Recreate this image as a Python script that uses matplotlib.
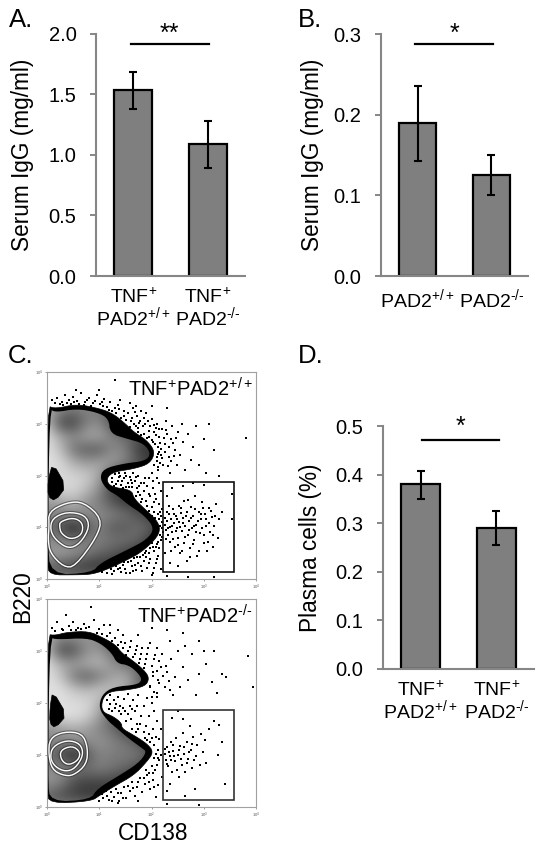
import numpy as np
import matplotlib
matplotlib.use("Agg")
import matplotlib.pyplot as plt
from matplotlib.patches import Polygon, Rectangle

plt.rcParams['font.family'] = ['Liberation Sans', 'DejaVu Sans']
plt.rcParams['mathtext.fontset'] = 'custom'
plt.rcParams['mathtext.rm'] = 'Liberation Sans'
plt.rcParams['mathtext.default'] = 'regular'

W, H = 543, 851

# bar panels
labels_tnf = ["TNF$^{+}$\nPAD2$^{+/+}$", "TNF$^{+}$\nPAD2$^{\\text{-/-}}$"]
labels_pad = ["PAD2$^{+/+}$", "PAD2$^{\\text{-/-}}$"]

igg_a = [1.53, 1.09]
igg_a_low = [1.38, 0.89]
igg_a_high = [1.68, 1.28]
ticks_a = [0.0, 0.5, 1.0, 1.5, 2.0]

igg_b = [0.19, 0.125]
igg_b_low = [0.142, 0.101]
igg_b_high = [0.235, 0.150]
ticks_b = [0.0, 0.1, 0.2, 0.3]

plasma = [0.38, 0.29]
plasma_low = [0.35, 0.255]
plasma_high = [0.408, 0.325]
ticks_d = [0.0, 0.1, 0.2, 0.3, 0.4, 0.5]

# flow plots: everything in log10 decades
decade_labels = ["$10^{0}$", "$10^{1}$", "$10^{2}$", "$10^{3}$", "$10^{4}$"]
gate = (2.22, 0.13, 3.57, 1.87)

outer_top = [(0, 3.35), (0.16, 3.29), (0.57, 3.38), (1.02, 3.29), (1.27, 3.19), (1.50, 3.0), (1.66, 2.84),
             (1.91, 2.68), (2.07, 2.46), (1.97, 2.23), (1.66, 2.13), (1.27, 2.07), (1.13, 1.94), (1.21, 1.78),
             (1.62, 1.72), (1.66, 1.56), (1.85, 1.37), (2.10, 1.14), (2.17, 0.95), (2.07, 0.76), (1.78, 0.50),
             (1.53, 0.37), (1.21, 0.21), (0.87, 0.09), (0.55, 0.08), (0.05, 0.08), (0, 0.3)]
inner_top = [(0.05, 3.29), (0.16, 3.22), (0.57, 3.29), (0.96, 3.22), (1.18, 3.10), (1.21, 2.81), (1.53, 2.71),
             (1.85, 2.62), (1.99, 2.42), (1.88, 2.28), (1.46, 2.23), (1.08, 2.13), (1.01, 1.94), (1.15, 1.72),
             (1.34, 1.62), (1.56, 1.43), (1.85, 1.24), (2.06, 0.98), (1.91, 0.76), (1.53, 0.56), (1.02, 0.31),
             (0.86, 0.12), (0.06, 0.08), (0.02, 0.76)]
hole_top = [(0.11, 2.24), (0.37, 1.79), (0.16, 1.51), (0.02, 1.59), (0.02, 1.91)]
rings_top = [[(0.03, 1.30), (0.38, 1.48), (0.70, 1.49), (1.05, 1.17), (0.96, 0.82), (0.54, 0.24), (0.32, 0.23),
              (0.06, 0.5), (0.02, 0.76), (0.04, 1.01)],
             [(0.10, 1.17), (0.38, 1.30), (0.73, 1.24), (0.82, 1.01), (0.64, 0.69), (0.41, 0.58), (0.16, 0.76),
              (0.06, 0.95)],
             [(0.25, 1.11), (0.51, 1.19), (0.69, 1.08), (0.67, 0.85), (0.45, 0.76), (0.27, 0.88), (0.24, 1.01)]]
# grey level read every 0.25 decade, rows from y=3.5 down to y=0, columns from x=0 to x=2.25
grey_top = [[.60, .60, .60, .60, .60, .60, .60, .60, .60, .60],
            [.70, .50, .45, .50, .45, .35, .20, .20, .20, .20],
            [.75, .30, .25, .50, .55, .30, .20, .20, .20, .20],
            [.88, .65, .55, .65, .65, .50, .40, .35, .25, .20],
            [.88, .75, .45, .35, .35, .55, .50, .22, .20, .20],
            [.88, .85, .68, .60, .65, .62, .50, .35, .20, .20],
            [.85, .85, .82, .80, .65, .30, .20, .20, .20, .20],
            [.85, .85, .85, .75, .55, .25, .20, .20, .20, .20],
            [.60, .65, .72, .58, .48, .32, .20, .20, .20, .20],
            [.55, .50, .55, .55, .55, .50, .45, .30, .20, .20],
            [.45, .30, .12, .30, .50, .35, .35, .45, .35, .20],
            [.55, .50, .45, .50, .50, .45, .45, .38, .20, .20],
            [.60, .65, .60, .50, .40, .35, .25, .20, .20, .20],
            [.40, .30, .25, .20, .20, .20, .20, .20, .20, .20],
            [.50, .50, .50, .50, .50, .50, .50, .50, .50, .50]]

outer_bot = [(0, 3.32), (0.16, 3.30), (0.38, 3.36), (0.80, 3.38), (1.08, 3.25), (1.31, 3.12), (1.43, 2.96),
             (1.62, 2.83), (1.85, 2.64), (1.96, 2.48), (1.88, 2.32), (1.53, 2.25), (1.18, 2.22), (1.05, 2.06),
             (1.05, 1.83), (1.27, 1.74), (1.43, 1.61), (1.43, 1.51), (1.66, 1.38), (1.91, 1.22), (2.04, 1.06),
             (1.91, 0.87), (1.66, 0.61), (1.27, 0.39), (1.02, 0.23), (0.84, 0.11), (0.05, 0.07), (0, 0.3)]
inner_bot = [(0.05, 3.26), (0.19, 3.22), (0.76, 3.25), (1.02, 3.15), (1.24, 2.96), (1.34, 2.76), (1.56, 2.73),
             (1.75, 2.57), (1.82, 2.44), (1.72, 2.35), (1.27, 2.31), (1.05, 2.16), (0.99, 1.90), (1.15, 1.67),
             (1.34, 1.51), (1.56, 1.32), (1.82, 1.13), (1.91, 1.06), (1.75, 0.84), (1.34, 0.58), (0.96, 0.35),
             (0.83, 0.14), (0.06, 0.1), (0.02, 0.5)]
hole_bot = [(0.11, 2.23), (0.38, 1.77), (0.16, 1.52), (0.05, 1.61), (0.06, 1.93)]
rings_bot = [[(0.05, 1.32), (0.32, 1.45), (0.67, 1.42), (0.78, 1.15), (0.76, 0.82), (0.5, 0.6), (0.3, 0.61),
              (0.1, 0.72), (0.03, 1.0)],
             [(0.10, 1.16), (0.38, 1.29), (0.64, 1.22), (0.70, 1.0), (0.54, 0.74), (0.35, 0.68), (0.16, 0.77),
              (0.06, 0.93)],
             [(0.25, 1.09), (0.48, 1.18), (0.64, 1.06), (0.60, 0.9), (0.41, 0.8), (0.27, 0.9)]]
grey_bot = [[.60, .60, .60, .60, .60, .60, .60, .60, .60, .60],
            [.70, .55, .55, .60, .50, .30, .20, .20, .20, .20],
            [.75, .28, .30, .55, .60, .40, .25, .20, .20, .20],
            [.88, .68, .62, .68, .72, .58, .45, .42, .25, .20],
            [.88, .78, .48, .35, .48, .62, .68, .40, .25, .20],
            [.88, .88, .78, .72, .78, .78, .68, .45, .20, .20],
            [.85, .88, .85, .85, .72, .40, .20, .20, .20, .20],
            [.85, .88, .88, .82, .62, .35, .20, .20, .20, .20],
            [.55, .60, .68, .62, .52, .42, .25, .20, .20, .20],
            [.55, .50, .52, .55, .58, .52, .45, .32, .20, .20],
            [.45, .30, .12, .32, .52, .48, .48, .48, .28, .20],
            [.55, .50, .48, .45, .50, .45, .40, .28, .20, .20],
            [.60, .55, .32, .28, .28, .28, .20, .20, .20, .20],
            [.40, .30, .25, .20, .20, .20, .20, .20, .20, .20],
            [.50, .50, .50, .50, .50, .50, .50, .50, .50, .50]]

dots_top = [
    # in the gate
    (2.25, 1.05), (2.28, 0.95), (2.3, 1.12), (2.31, 0.85), (2.33, 1.25), (2.35, 1.0), (2.36, 0.72), (2.38, 1.15),
    (2.4, 0.9), (2.42, 1.35), (2.44, 1.08), (2.45, 0.62), (2.47, 1.22), (2.48, 0.98), (2.5, 0.8), (2.52, 1.42),
    (2.53, 1.1), (2.55, 0.5), (2.56, 1.28), (2.58, 0.92), (2.6, 1.18), (2.62, 0.7), (2.63, 1.5), (2.65, 1.02),
    (2.67, 0.35), (2.68, 1.3), (2.7, 0.85), (2.72, 1.12), (2.74, 0.6), (2.75, 1.4), (2.77, 0.98), (2.8, 1.22),
    (2.82, 0.75), (2.84, 1.6), (2.85, 1.05), (2.88, 0.45), (2.9, 1.3), (2.92, 0.88), (2.95, 1.15), (2.97, 1.48),
    (3.0, 0.7), (3.02, 1.25), (3.05, 1.02), (3.07, 0.55), (3.1, 1.38), (3.12, 0.9), (3.15, 1.2), (3.18, 0.62),
    (3.2, 1.02), (3.24, 1.45), (3.28, 0.8), (3.3, 1.15), (3.35, 1.3), (2.3, 1.6), (2.4, 1.75), (2.6, 1.8),
    (2.8, 1.85), (2.25, 0.5), (2.35, 0.3), (2.5, 0.25), (3.0, 1.82), (3.55, 1.65), (3.55, 1.16),
    (2.26, 1.18), (2.27, 0.78), (2.29, 1.3), (2.32, 0.98), (2.34, 1.42), (2.37, 0.55), (2.39, 1.02), (2.41, 0.78),
    (2.43, 1.25), (2.46, 0.92), (2.49, 1.15), (2.51, 0.65), (2.54, 1.0), (2.57, 1.38), (2.59, 0.55), (2.61, 1.08),
    (2.64, 0.82), (2.66, 1.22), (2.69, 1.52), (2.71, 0.95), (2.73, 0.42), (2.76, 1.18), (2.79, 0.68), (2.81, 1.02),
    (2.83, 1.35), (2.86, 0.9), (2.89, 1.12), (2.91, 0.55), (2.94, 1.25), (2.96, 0.98), (2.99, 1.38), (3.01, 0.85),
    (3.04, 1.15), (3.08, 0.72), (3.11, 1.08), (3.14, 1.32), (3.17, 0.85), (3.22, 1.22),
    # right of the contour, upper cloud
    (1.55, 3.2), (1.6, 3.05), (1.65, 3.3), (1.7, 2.95), (1.72, 3.15), (1.75, 2.85), (1.78, 3.05), (1.8, 3.25),
    (1.85, 2.8), (1.88, 3.0), (1.9, 3.2), (1.95, 2.75), (1.97, 2.95), (2.0, 3.1), (2.02, 2.65), (2.05, 2.85),
    (2.1, 3.0), (2.12, 2.55), (2.15, 2.75), (2.18, 2.4), (2.2, 2.9), (2.22, 2.2), (2.25, 2.6), (2.28, 3.05),
    (2.3, 2.8), (2.33, 2.35), (2.35, 2.05), (2.38, 2.7), (2.4, 2.95), (2.45, 2.5), (2.48, 2.2), (2.5, 2.85),
    (2.55, 2.4), (2.58, 3.0), (2.6, 2.65), (2.65, 2.1), (2.7, 2.8), (2.75, 2.3), (2.8, 2.55), (2.85, 2.95),
    (2.9, 2.2), (3.0, 2.7), (3.05, 2.05), (3.1, 3.0), (3.2, 2.5), (3.3, 2.0), (3.8, 2.72), (1.3, 3.3), (1.4, 3.45),
    (1.2, 3.42), (1.48, 3.25), (1.38, 3.28), (1.58, 3.4), (1.7, 3.35), (2.3, 3.3), (2.0, 3.35),
    (1.52, 3.08), (1.58, 2.94), (1.62, 3.12), (1.66, 3.0), (1.74, 2.92), (1.8, 2.78), (1.83, 2.95), (1.86, 3.12),
    (1.92, 2.72), (1.96, 2.86), (2.0, 2.68), (2.04, 2.98), (2.07, 2.6), (2.09, 2.78), (2.12, 2.42), (2.14, 2.9),
    (2.16, 2.62), (2.19, 2.52), (2.21, 2.34), (2.23, 2.72), (2.26, 2.45), (2.27, 2.88), (2.31, 2.18), (2.34, 2.55),
    (2.37, 2.28), (2.41, 2.62), (2.44, 2.38), (2.47, 2.72), (1.68, 3.22), (1.76, 3.02), (1.93, 3.05), (2.08, 2.92),
    (2.17, 2.24), (2.15, 2.46), (2.1, 2.28), (2.13, 2.16),
    # along the top of the contour
    (0.1, 3.45), (0.2, 3.5), (0.28, 3.42), (0.35, 3.55), (0.42, 3.45), (0.5, 3.52), (0.58, 3.44), (0.65, 3.6),
    (0.72, 3.42), (0.8, 3.5), (0.88, 3.4), (0.95, 3.55), (1.02, 3.38), (1.1, 3.48), (1.15, 3.32), (0.55, 3.65),
    (1.3, 3.85), (1.0, 3.65), (0.3, 3.36), (0.46, 3.38), (0.7, 3.36), (0.85, 3.34), (1.08, 3.34),
    (0.15, 3.4), (0.24, 3.38), (0.38, 3.4), (0.52, 3.42), (0.62, 3.39), (0.76, 3.46), (0.92, 3.44), (1.05, 3.42),
    (1.18, 3.27), (1.25, 3.24), (1.33, 3.2), (1.42, 3.12), (1.47, 3.15), (1.36, 3.36),
    # notch
    (1.3, 2.02), (1.35, 1.9), (1.4, 2.0), (1.42, 1.82), (1.48, 1.95), (1.5, 2.05), (1.55, 1.85), (1.58, 1.98),
    (1.62, 1.78), (1.65, 2.05), (1.68, 1.9), (1.72, 1.75), (1.75, 2.0), (1.78, 1.62), (1.8, 1.85), (1.85, 1.7),
    (1.88, 1.95), (1.9, 1.5), (1.92, 1.8), (1.25, 1.88), (1.33, 1.83), (1.45, 1.76), (1.7, 1.6), (1.25, 1.95),
    (1.38, 2.05), (1.6, 1.92), (1.52, 1.78), (1.28, 1.8), (1.37, 1.97), (1.44, 1.89), (1.52, 2.0), (1.57, 1.78),
    (1.63, 1.86), (1.7, 1.98), (1.76, 1.8), (1.82, 1.55), (1.86, 1.86), (1.95, 1.65), (1.74, 1.68), (1.8, 1.48),
    # right of the contour, middle
    (1.98, 1.6), (2.0, 1.4), (2.02, 1.75), (2.05, 1.3), (2.08, 1.55), (2.1, 1.95), (2.12, 1.25), (2.15, 1.45),
    (2.18, 1.7), (2.12, 2.1), (2.2, 1.35), (2.2, 1.1), (2.22, 0.9), (2.18, 0.75), (2.15, 0.6), (2.1, 0.68),
    (2.05, 0.55), (2.0, 0.7), (1.95, 0.5), (2.0, 2.05), (2.05, 2.2), (2.1, 2.35), (1.95, 1.95),
    (1.92, 1.42), (1.96, 1.32), (2.01, 1.22), (2.04, 1.48), (2.07, 1.18), (2.14, 1.16), (2.16, 1.3), (2.19, 1.22),
    (2.17, 1.02), (2.21, 0.98), (2.2, 0.82), (2.16, 0.85), (2.12, 0.72), (2.08, 0.62), (2.03, 0.62), (1.98, 0.6),
    (1.9, 0.55), (2.06, 1.65), (2.14, 1.85), (2.03, 1.9),
    # below the contour
    (1.0, 0.15), (1.1, 0.2), (1.15, 0.12), (1.2, 0.28), (1.28, 0.16), (1.32, 0.25), (1.38, 0.35), (1.42, 0.14),
    (1.45, 0.28), (1.5, 0.2), (1.55, 0.32), (1.58, 0.12), (1.62, 0.25), (1.66, 0.4), (1.7, 0.18), (1.75, 0.3),
    (1.78, 0.42), (1.82, 0.15), (1.85, 0.35), (1.88, 0.5), (1.92, 0.22), (1.98, 0.38), (2.02, 0.12), (2.08, 0.3),
    (2.12, 0.45), (2.18, 0.2), (2.0, 0.08), (2.3, 0.05), (2.7, 0.03), (3.2, 0.04), (1.25, 0.1), (1.35, 0.2),
    (1.05, 0.13), (1.22, 0.19), (1.4, 0.22), (1.48, 0.32), (1.52, 0.12), (1.6, 0.34), (1.68, 0.28), (1.72, 0.42),
    (1.8, 0.25), (1.84, 0.46), (1.95, 0.3), (2.05, 0.22), (2.1, 0.38), (1.65, 0.16), (1.9, 0.42),
]

dots_bot = [
    # in the gate
    (2.25, 1.02), (2.28, 0.9), (2.3, 1.15), (2.32, 0.78), (2.35, 0.98), (2.37, 1.25), (2.4, 0.68), (2.42, 1.08),
    (2.45, 0.88), (2.47, 1.32), (2.5, 1.0), (2.52, 0.58), (2.55, 1.18), (2.58, 0.8), (2.6, 1.42), (2.62, 1.02),
    (2.65, 0.68), (2.68, 1.25), (2.7, 0.92), (2.73, 1.55), (2.75, 1.1), (2.78, 0.75), (2.8, 1.35), (2.83, 0.35),
    (2.85, 0.98), (2.88, 1.2), (2.92, 0.8), (2.95, 1.4), (2.98, 1.05), (3.02, 1.28), (3.05, 0.85), (3.1, 1.5),
    (3.2, 1.65), (3.3, 1.58), (3.35, 1.25), (3.28, 1.0), (3.4, 0.45), (2.35, 0.45), (2.3, 0.3), (2.4, 1.72),
    (2.5, 1.85), (2.6, 1.7), (2.65, 0.22), (2.2, 0.58),
    (2.26, 1.12), (2.29, 0.82), (2.33, 1.05), (2.38, 0.9), (2.41, 1.2), (2.44, 0.98), (2.48, 0.72), (2.53, 1.1),
    (2.57, 0.92), (2.63, 1.15), (2.67, 0.85), (2.72, 1.05), (2.77, 1.22), (2.82, 0.9),
    # upper cloud
    (1.5, 3.15), (1.55, 3.0), (1.6, 3.2), (1.68, 2.95), (1.72, 3.1), (1.78, 2.85), (1.82, 3.05), (1.88, 2.75),
    (1.92, 2.95), (1.98, 3.15), (2.02, 2.6), (2.05, 2.85), (2.1, 3.05), (2.12, 2.45), (2.18, 2.7), (2.2, 2.95),
    (2.25, 2.3), (2.3, 2.6), (2.35, 3.2), (2.38, 2.85), (2.42, 2.15), (2.45, 2.5), (2.5, 3.0), (2.55, 2.3),
    (2.6, 2.7), (2.65, 3.1), (2.7, 2.45), (2.78, 2.95), (2.85, 2.15), (2.9, 2.55), (3.0, 3.0), (3.05, 2.75),
    (3.15, 2.4), (3.2, 3.0), (3.35, 2.55), (3.42, 2.5), (3.25, 2.2), (3.85, 2.9), (3.95, 2.3), (1.35, 3.4),
    (1.2, 3.5), (1.45, 3.3), (1.75, 3.3), (2.3, 3.4), (2.0, 3.45), (2.6, 3.35), (2.9, 3.2),
    (1.46, 3.05), (1.52, 2.92), (1.58, 3.08), (1.64, 2.88), (1.7, 3.02), (1.76, 2.76), (1.8, 2.95), (1.86, 2.68),
    (1.9, 2.85), (1.94, 3.05), (2.0, 2.72), (2.03, 2.52), (2.07, 2.92), (2.1, 2.62), (2.14, 2.38), (2.15, 2.8),
    (2.22, 2.52), (2.27, 2.72), (2.33, 2.42), (2.36, 2.25), (1.98, 2.32), (2.05, 2.22), (2.1, 2.12), (2.0, 2.12),
    # top of the contour
    (0.1, 3.45), (0.2, 3.55), (0.28, 3.42), (0.36, 3.7), (0.42, 3.48), (0.5, 3.56), (0.6, 3.45), (0.7, 3.52),
    (0.8, 3.46), (0.9, 3.6), (1.0, 3.42), (1.1, 3.5), (1.2, 3.35), (0.85, 3.85), (1.3, 3.25), (0.15, 3.38),
    (0.3, 3.4), (0.95, 3.35), (0.45, 3.4), (0.55, 3.41), (0.65, 3.42), (0.75, 3.44), (1.05, 3.33), (1.15, 3.28),
    (1.25, 3.2), (1.36, 3.12), (1.42, 3.18),
    # notch
    (1.2, 2.15), (1.28, 2.05), (1.3, 1.9), (1.35, 2.12), (1.4, 1.95), (1.42, 1.78), (1.48, 2.08), (1.5, 1.85),
    (1.55, 2.18), (1.58, 1.95), (1.6, 1.7), (1.65, 2.05), (1.68, 1.85), (1.72, 1.6), (1.75, 2.15), (1.8, 1.75),
    (1.85, 1.95), (1.9, 1.55), (1.92, 2.1), (1.2, 1.98), (1.25, 1.85), (1.38, 1.85), (1.52, 1.65), (1.62, 1.5),
    (1.7, 1.45), (1.75, 1.5), (1.15, 2.05), (1.18, 1.88), (1.33, 1.98), (1.45, 1.9), (1.55, 1.78), (1.62, 1.88),
    (1.72, 1.95), (1.78, 1.6), (1.85, 1.45), (1.95, 1.75),
    # middle right
    (1.95, 1.4), (1.98, 1.25), (2.02, 1.5), (2.05, 1.2), (2.08, 1.35), (2.1, 1.65), (2.12, 1.1), (2.15, 1.3),
    (2.18, 1.0), (2.15, 0.9), (2.1, 0.8), (2.05, 0.95), (2.0, 0.78), (1.95, 0.65), (2.18, 1.5), (2.05, 1.85),
    (2.0, 2.0), (2.1, 2.2), (1.98, 2.3), (1.88, 1.32), (1.92, 1.28), (2.0, 1.32), (2.09, 1.02), (2.12, 0.95),
    (2.06, 0.72), (2.02, 0.65), (1.9, 0.72),
    # below
    (1.0, 0.12), (1.08, 0.18), (1.12, 0.3), (1.18, 0.14), (1.22, 0.28), (1.28, 0.2), (1.32, 0.34), (1.38, 0.12),
    (1.42, 0.26), (1.48, 0.38), (1.52, 0.18), (1.58, 0.3), (1.62, 0.48), (1.68, 0.22), (1.72, 0.38), (1.78, 0.55),
    (1.82, 0.28), (1.88, 0.45), (1.92, 0.62), (1.98, 0.35), (2.02, 0.52), (2.08, 0.2), (2.12, 0.42), (1.75, 0.12),
    (1.35, 0.08), (2.3, 0.06), (2.9, 0.03), (1.15, 0.22), (1.25, 0.12), (1.05, 0.25), (1.35, 0.26), (1.45, 0.18),
    (1.55, 0.4), (1.65, 0.36), (1.75, 0.48), (1.85, 0.55), (1.95, 0.48), (2.05, 0.38),
]


def axes_px(left, top, right, bottom):
    return fig.add_axes([left / W, 1 - bottom / H, (right - left) / W, (bottom - top) / H])


def smooth(points, n=2):
    # corner cutting so the hand read outlines don't look polygonal
    pts = np.array(points, dtype=float)
    for _ in range(n):
        nxt = np.roll(pts, -1, axis=0)
        pts = np.column_stack([0.75 * pts + 0.25 * nxt, 0.25 * pts + 0.75 * nxt]).reshape(-1, 2)
    return pts


def bar_panel(box, vals, low, high, ticks, names, ylabel, stars, line_px, star_px, label_y):
    ax = axes_px(*box)
    left, top, right, bottom = box
    xs = np.arange(len(vals))
    ymax = ticks[-1]
    err = [np.array(vals) - np.array(low), np.array(high) - np.array(vals)]
    ax.bar(xs, vals, width=0.51, color="#7f7f7f", edgecolor="black", linewidth=1.6, zorder=2)
    ax.errorbar(xs, vals, yerr=err, fmt="none", ecolor="black", elinewidth=1.5, capsize=3, capthick=1.5, zorder=3)
    ax.set_xlim(-0.5, 1.5)
    ax.set_ylim(0, ymax)
    ax.set_yticks(ticks)
    ax.set_yticklabels([f"{t:.1f}" for t in ticks], fontsize=14.5)
    ax.set_xticks(xs)
    ax.set_xticklabels(names, fontsize=14, linespacing=0.95)
    ax.tick_params(axis="y", color="#868686", width=1.4, length=4.5, pad=9.5)
    ax.tick_params(axis="x", length=0, pad=8)
    for s in ["top", "right"]:
        ax.spines[s].set_visible(False)
    for s in ["left", "bottom"]:
        ax.spines[s].set_color("#868686")
        ax.spines[s].set_linewidth(1.5)
    x0, x1, y_line = line_px
    fig.add_artist(plt.Line2D([x0 / W, x1 / W], [1 - y_line / H] * 2, color="black", lw=1.6))
    fig.text(star_px[0] / W, 1 - star_px[1] / H, stars, fontsize=18, ha="center", va="center")
    fig.text(label_y / W, 1 - (top + bottom) / 2 / H, ylabel, rotation=90, fontsize=16.3, ha="center", va="center")
    return ax


def flow_panel(box, outer, inner, hole, rings, grey, dots, name, gate_color):
    ax = axes_px(*box)
    ax.set_xlim(0, 4)
    ax.set_ylim(0, 4)
    ax.add_patch(Polygon(smooth(outer), closed=True, fc="black", ec="black", lw=0.5, zorder=1))
    im = ax.imshow(grey, extent=[-0.125, 2.375, -0.125, 3.625], origin="upper", cmap="gray", vmin=0, vmax=1,
                   aspect="auto", interpolation="bicubic", zorder=2)
    clip = Polygon(smooth(inner), closed=True, transform=ax.transData)
    im.set_clip_path(clip)
    ax.set_xlim(0, 4)
    ax.set_ylim(0, 4)
    ax.add_patch(Polygon(smooth(hole, 1), closed=True, fc="black", ec="black", lw=0.5, zorder=3))
    for ring in rings:
        ax.add_patch(Polygon(smooth(ring), closed=True, fc="none", ec="#222222", lw=2.6, alpha=0.5, zorder=4))
        ax.add_patch(Polygon(smooth(ring), closed=True, fc="none", ec="white", lw=1.0, zorder=5))
    d = np.array(dots)
    ax.scatter(d[:, 0], d[:, 1], s=0.6, c="black", marker="s", linewidths=0, zorder=6)
    ax.add_patch(Rectangle((gate[0], gate[1]), gate[2] - gate[0], gate[3] - gate[1], fc="none", ec=gate_color,
                           lw=1.2, zorder=7))
    ax.set_xticks(range(5))
    ax.set_yticks(range(5))
    ax.set_xticklabels(decade_labels, fontsize=3)
    ax.set_yticklabels(decade_labels, fontsize=3)
    ax.tick_params(length=1.5, width=0.4, pad=1, color="#555555", labelcolor="#555555")
    for s in ax.spines.values():
        s.set_color("#a0a0a0")
        s.set_linewidth(0.8)
    ax.text(0.985, 0.975, name, transform=ax.transAxes, fontsize=14.5, ha="right", va="top", zorder=8)
    return ax


fig = plt.figure(figsize=(W / 100, H / 100), dpi=100)

bar_panel((96, 33.5, 245, 276), igg_a, igg_a_low, igg_a_high, ticks_a, labels_tnf, "Serum IgG (mg/ml)", "**",
          (131, 209, 44), (169, 34), 23)
bar_panel((381, 34, 528, 276), igg_b, igg_b_low, igg_b_high, ticks_b, labels_pad, "Serum IgG (mg/ml)", "*",
          (415, 493, 44), (454, 34), 312)
bar_panel((383, 426, 534, 669), plasma, plasma_low, plasma_high, ticks_d, labels_tnf, "Plasma cells (%)", "*",
          (422, 499, 440), (460, 427), 310)

flow_panel((47, 372, 256, 579), outer_top, inner_top, hole_top, rings_top, grey_top, dots_top,
           "TNF$^{+}$PAD2$^{+/+}$", "#111111")
flow_panel((47, 599, 256, 807), outer_bot, inner_bot, hole_bot, rings_bot, grey_bot, dots_bot,
           "TNF$^{+}$PAD2$^{\\text{-/-}}$", "#333333")

for letter, x, y in [("A.", 9, 20), ("B.", 298, 20), ("C.", 8, 356), ("D.", 298, 356)]:
    fig.text(x / W, 1 - y / H, letter, fontsize=18.5, ha="left", va="center")
fig.text(23 / W, 1 - 597 / H, "B220", rotation=90, fontsize=16.3, ha="center", va="center")
fig.text(153 / W, 1 - 834 / H, "CD138", fontsize=16.3, ha="center", va="center")

fig.savefig("out.png", dpi=100)
